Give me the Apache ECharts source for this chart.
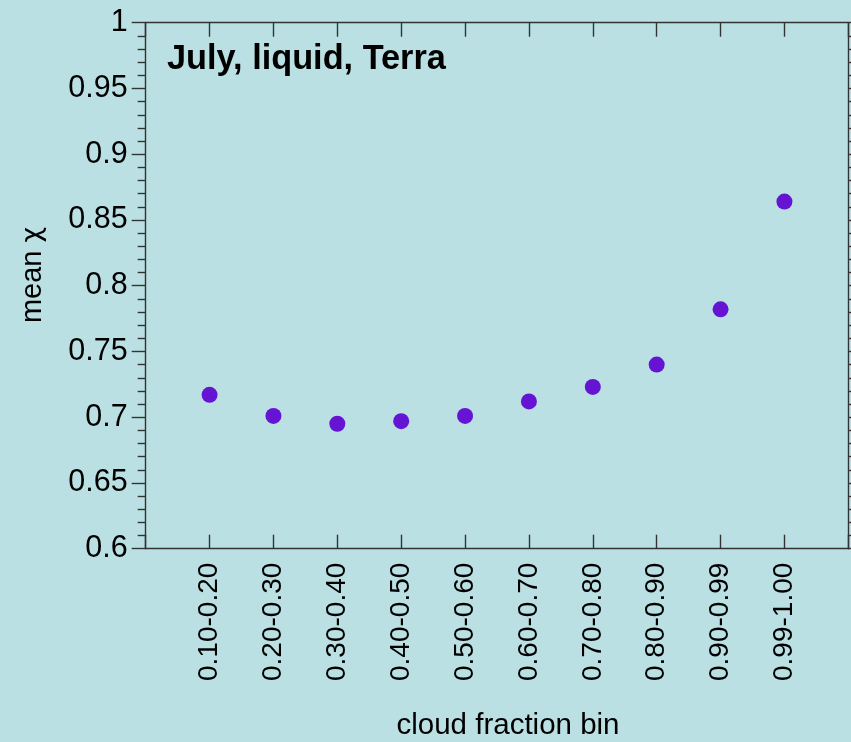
<!DOCTYPE html>
<html>
<head>
<meta charset="utf-8">
<script src="https://cdn.jsdelivr.net/npm/echarts@6/dist/echarts.min.js"></script>
<style>
  html, body { margin: 0; padding: 0; background: #bae0e3; }
  #chart { width: 851px; height: 742px; }
</style>
</head>
<body>
<div id="chart"></div>
<script>
// Cloud fraction bins along the x axis
const binLabels = ['0.10-0.20', '0.20-0.30', '0.30-0.40', '0.40-0.50', '0.50-0.60',
                   '0.60-0.70', '0.70-0.80', '0.80-0.90', '0.90-0.99', '0.99-1.00'];
// Mean chi for each bin
const meanChi = [0.717, 0.701, 0.695, 0.697, 0.701, 0.712, 0.723, 0.740, 0.782, 0.864];
// Y axis range and step
const yMin = 0.6, yMax = 1.0, yStep = 0.05;

const FONT = "'Liberation Sans', Arial, sans-serif";
const AXIS_COLOR = '#333';

const points = meanChi.map((v, i) => [i + 1, v]);

const chart = echarts.init(document.getElementById('chart'), null, { renderer: 'canvas' });

const lineStyle = { color: AXIS_COLOR, width: 1.4 };

chart.setOption({
  backgroundColor: '#bae0e3',
  animation: false,
  grid: { left: 145.7, right: 2.7, top: 22.7, bottom: 193.3, containLabel: false },
  xAxis: [
    {
      type: 'value', position: 'bottom', min: 0, max: binLabels.length + 1, interval: 1,
      axisLine: { show: true, onZero: false, lineStyle },
      axisTick: { show: true, inside: true, length: 14, lineStyle },
      splitLine: { show: false },
      axisLabel: {
        rotate: 90, margin: 14, fontSize: 28, color: '#000', fontFamily: FONT,
        formatter: v => binLabels[v - 1] || ''
      }
    },
    {
      type: 'value', position: 'top', min: 0, max: binLabels.length + 1, interval: 1,
      axisLine: { show: true, onZero: false, lineStyle },
      axisTick: { show: true, inside: true, length: 14, lineStyle },
      splitLine: { show: false },
      axisLabel: { show: false }
    }
  ],
  yAxis: [
    {
      type: 'value', position: 'left', min: yMin, max: yMax, interval: yStep,
      axisLine: { show: true, onZero: false, lineStyle },
      axisTick: { show: true, inside: false, length: 14, lineStyle },
      minorTick: { show: true, splitNumber: 5, length: 8, lineStyle },
      splitLine: { show: false },
      axisLabel: {
        margin: 18, fontSize: 30.5, color: '#000', fontFamily: FONT,
        padding: [0, 0, 12, 0],
        formatter: v => String(+v.toFixed(2))
      }
    },
    {
      type: 'value', position: 'right', min: yMin, max: yMax, interval: yStep,
      axisLine: { show: true, onZero: false, lineStyle },
      axisTick: { show: true, inside: false, length: 14, lineStyle },
      minorTick: { show: true, splitNumber: 5, length: 8, lineStyle },
      splitLine: { show: false },
      axisLabel: { show: false }
    }
  ],
  series: [
    {
      type: 'scatter', xAxisIndex: 0, yAxisIndex: 0,
      symbol: 'circle', symbolSize: 16,
      itemStyle: { color: '#6614d4', opacity: 1 },
      data: points
    }
  ],
  graphic: [
    {
      type: 'text', left: 167, top: 43,
      style: { text: 'July, liquid, Terra', fill: '#000', font: `bold 34.3px ${FONT}` }
    },
    {
      type: 'text', x: 508, y: 726,
      style: { text: 'cloud fraction bin', fill: '#000', font: `29.5px ${FONT}`, align: 'center', verticalAlign: 'middle' }
    },
    {
      type: 'text', x: 33, y: 275, rotation: Math.PI / 2,
      style: {
        text: 'mean {c|χ}', fill: '#000', font: `29px ${FONT}`, align: 'center', verticalAlign: 'middle',
        rich: { c: { fontFamily: "'DejaVu Sans', sans-serif", fontSize: 27, fill: '#000' } }
      }
    }
  ]
});
</script>
</body>
</html>
